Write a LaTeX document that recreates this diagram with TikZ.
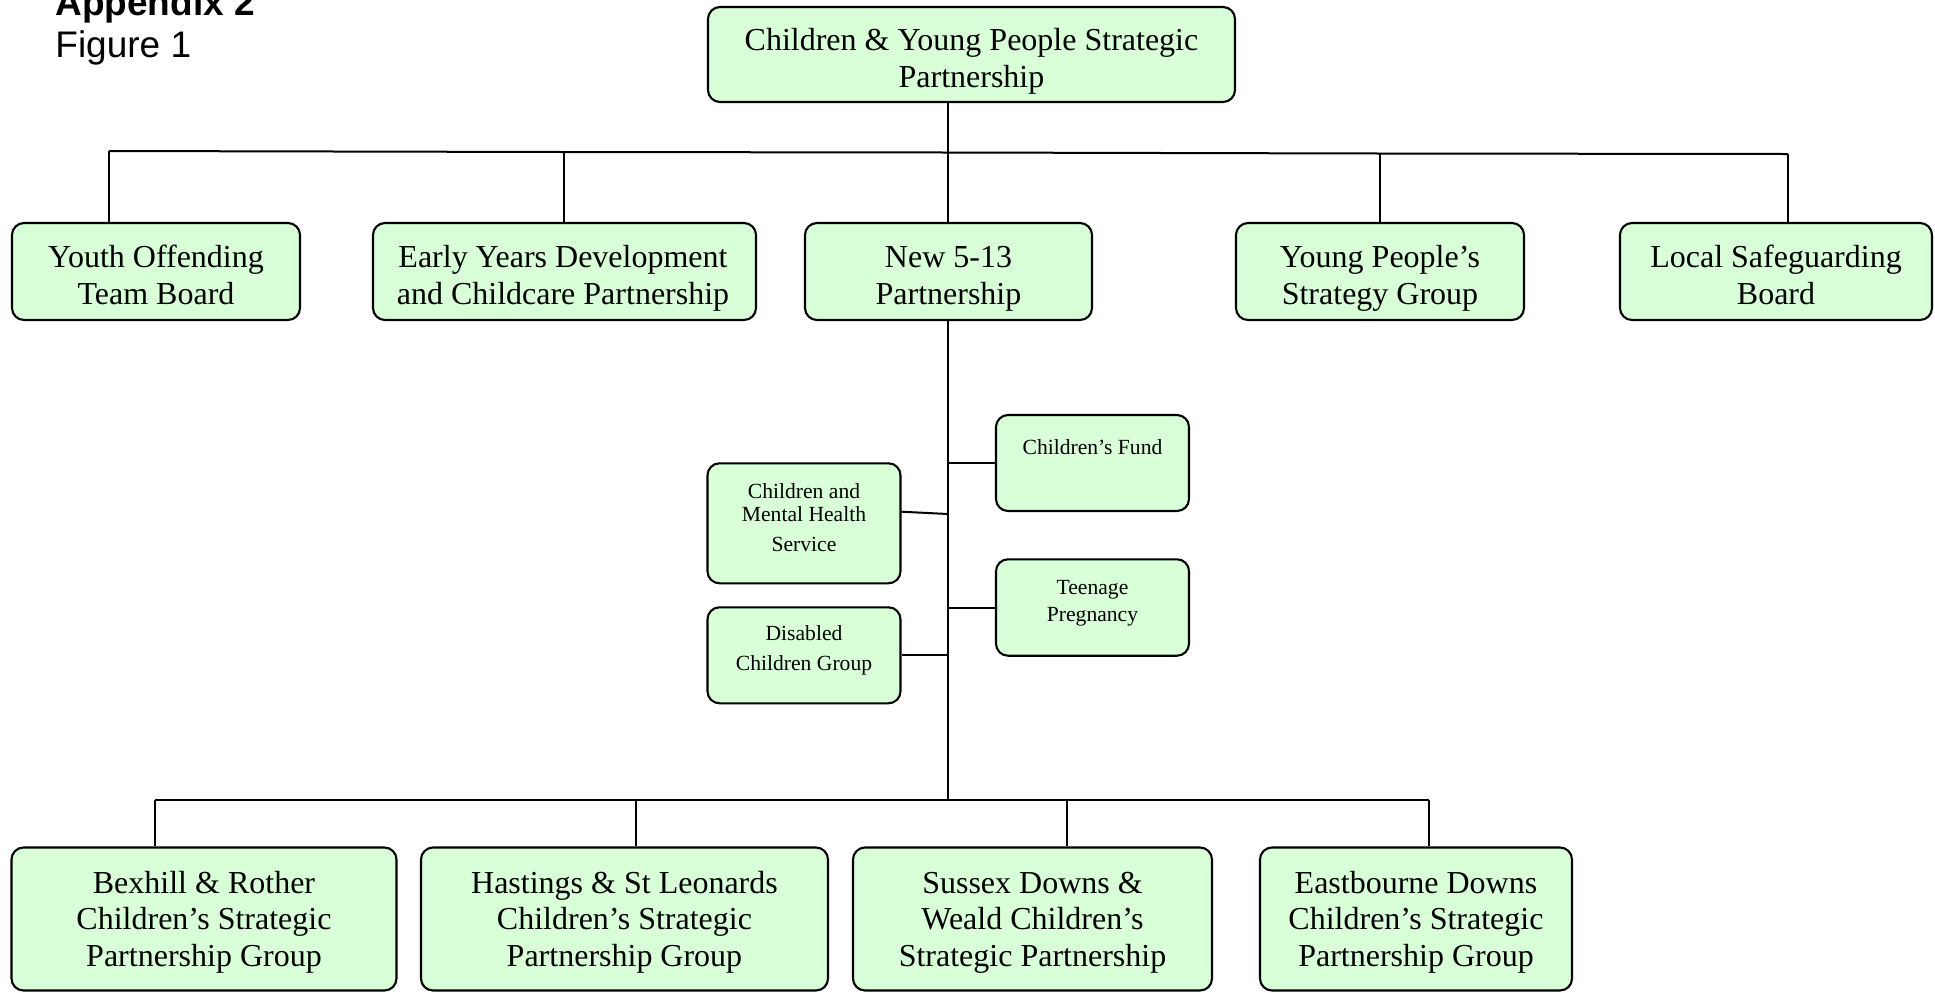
\documentclass[tikz,border=0pt]{standalone}
\usepackage{fontspec}
\setmainfont{Liberation Serif}
\newfontfamily\headfont{Liberation Sans}
\definecolor{boxgreen}{RGB}{216,255,216}
\newcommand{\tl}[1]{\begin{tabular}[t]{@{}c@{}}#1\end{tabular}}
\tikzset{
  box/.style={draw=black, line width=1.05pt, fill=boxgreen, rounded corners=6pt, inner sep=0pt},
  txt/.style={anchor=base, inner sep=0pt, font=\fontsize{16}{18.7}\selectfont},
  txtlow/.style={txt, font=\fontsize{16}{18.2}\selectfont},
  txtsmall/.style={anchor=base, inner sep=0pt, font=\fontsize{10.8}{13.7}\selectfont},
  conn/.style={line width=1pt},
  head/.style={anchor=base west, inner sep=0pt, font=\headfont\fontsize{18.5}{20}\selectfont}
}
\begin{document}
\begin{tikzpicture}[x=0.5pt,y=-0.5pt]
\useasboundingbox (0,0) rectangle (1935,992);
% headings
\node[head, font=\headfont\bfseries\fontsize{18.5}{20}\selectfont] (app) at (55,15) {Appendix 2};
\node[head] (fig) at (55,57.5) {Figure 1};
% top
\node[box, minimum width=263.5pt, minimum height=47.5pt] (top) at (971.5,54.5) {};
\node[txt] (top-t) at (971.5,50) {\tl{Children \& Young People Strategic\\Partnership}};
% row 2
\node[box, minimum width=144pt, minimum height=48.5pt] (yotb) at (156,271.5) {};
\node[txt] (yotb-t) at (156,267) {\tl{Youth Offending\\Team Board}};
\node[box, minimum width=191.5pt, minimum height=48.5pt] (eyd) at (564.5,271.5) {};
\node[txt] (eyd-t) at (563,267) {\tl{Early Years Development\\and Childcare Partnership}};
\node[box, minimum width=143.5pt, minimum height=48.5pt] (new) at (948.5,271.5) {};
\node[txt] (new-t) at (948.5,267) {\tl{New 5-13\\Partnership}};
\node[box, minimum width=144pt, minimum height=48.5pt] (yps) at (1380,271.5) {};
\node[txt] (yps-t) at (1380,267) {\tl{Young People’s\\Strategy Group}};
\node[box, minimum width=156pt, minimum height=48.5pt] (lsb) at (1776,271.5) {};
\node[txt] (lsb-t) at (1776,267) {\tl{Local Safeguarding\\Board}};
% middle
\node[box, minimum width=96.5pt, minimum height=48pt] (cf) at (1092.5,463) {};
\node[txtsmall] (cf-t) at (1092.5,454) {Children’s Fund};
\node[box, minimum width=96.5pt, minimum height=60pt] (cmhs) at (804,523.3) {};
\node[txtsmall, font=\fontsize{10.8}{11.7}\selectfont] (cmhs-t) at (804,498.3) {\tl{Children and\\Mental Health\\[3.3pt]Service}};
\node[box, minimum width=96.5pt, minimum height=48.2pt] (tp) at (1092.5,607.5) {};
\node[txtsmall] (tp-t) at (1092.5,594.3) {\tl{Teenage\\Pregnancy}};
\node[box, minimum width=96.5pt, minimum height=48pt] (dcg) at (804,655.3) {};
\node[txtsmall, font=\fontsize{10.8}{15}\selectfont] (dcg-t) at (804,640) {\tl{Disabled\\Children Group}};
% bottom
\node[box, minimum width=192.5pt, minimum height=71.5pt] (bex) at (204,919) {};
\node[txtlow] (bex-t) at (204,893.5) {\tl{Bexhill \& Rother\\Children’s Strategic\\Partnership Group}};
\node[box, minimum width=203.5pt, minimum height=71.5pt] (has) at (624.5,919) {};
\node[txtlow] (has-t) at (624.5,893.5) {\tl{Hastings \& St Leonards\\Children’s Strategic\\Partnership Group}};
\node[box, minimum width=179.5pt, minimum height=71.5pt] (sus) at (1032.5,919) {};
\node[txtlow] (sus-t) at (1032.5,893.5) {\tl{Sussex Downs \&\\Weald Children’s\\Strategic Partnership}};
\node[box, minimum width=156pt, minimum height=71.5pt] (eas) at (1416,919) {};
\node[txtlow] (eas-t) at (1416,893.5) {\tl{Eastbourne Downs\\Children’s Strategic\\Partnership Group}};
% top bus
\coordinate (t0) at (109,151);
\coordinate (t1) at (564,152);
\coordinate (t2) at (948,152.5);
\coordinate (t3) at (1380,153.5);
\coordinate (t4) at (1788,154);
\draw[conn] (top.south -| t2) -- (t2);
\draw[conn] (t0) -- (t1) -- (t2) -- (t3) -- (t4);
\draw[conn] (t0) -- (t0 |- yotb.north);
\draw[conn] (t1) -- (t1 |- eyd.north);
\draw[conn] (t2) -- (t2 |- new.north);
\draw[conn] (t3) -- (t3 |- yps.north);
\draw[conn] (t4) -- (t4 |- lsb.north);
% spine
\coordinate (sp) at (948,800);
\draw[conn] (new.south -| sp) -- (sp);
\draw[conn] (cf.west) -- (cf.west -| sp);
\coordinate (cm) at (948,514);
\draw[conn] ([yshift=5.8pt]cmhs.east) -- (cm);
\draw[conn] (tp.west) -- (tp.west -| sp);
\draw[conn] (dcg.east) -- (dcg.east -| sp);
% bottom bus
\coordinate (b0) at (155,800);
\coordinate (b1) at (636,800);
\coordinate (b2) at (1067,800);
\coordinate (b3) at (1429,800);
\draw[conn] (b0) -- (b3);
\draw[conn] (b0) -- (b0 |- bex.north);
\draw[conn] (b1) -- (b1 |- has.north);
\draw[conn] (b2) -- (b2 |- sus.north);
\draw[conn] (b3) -- (b3 |- eas.north);
\end{tikzpicture}
\end{document}
